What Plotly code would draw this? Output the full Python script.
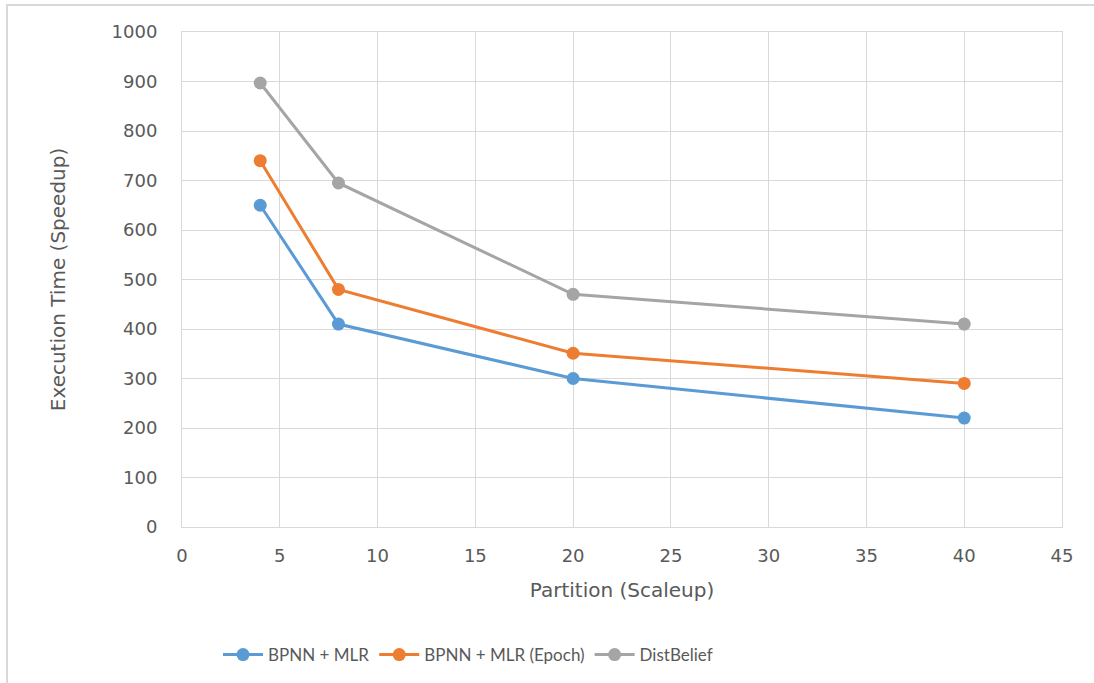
import plotly.graph_objects as go

partitions = [4, 8, 20, 40]
bpnn_mlr = [650, 410, 300, 220]
bpnn_mlr_epoch = [740, 480, 351, 290]
distbelief = [897, 695, 470, 410]

series = [
    ("BPNN + MLR", bpnn_mlr, "#5b9bd5"),
    ("BPNN + MLR (Epoch)", bpnn_mlr_epoch, "#ed7d31"),
    ("DistBelief", distbelief, "#a5a5a5"),
]

fig = go.Figure()
for name, vals, color in series:
    fig.add_trace(go.Scatter(
        x=partitions, y=vals, name=name, mode="lines+markers",
        line=dict(color=color, width=3),
        marker=dict(color=color, size=13),
    ))

W, H = 1094, 683
L, R, T, B = 182, 32, 32, 156
pw, ph = W - L - R, H - T - B

def px_x(p):
    return (p - L) / pw

def px_y(p):
    return (H - B - p) / ph

font_family = "'DejaVu Sans', 'Open Sans', sans-serif"
grid = "#d9d9d9"
txt = "#595959"

fig.update_layout(
    width=W, height=H,
    margin=dict(l=L, r=R, t=T, b=B, autoexpand=False),
    paper_bgcolor="white", plot_bgcolor="white",
    font=dict(family=font_family, color=txt, size=18),
    xaxis=dict(
        range=[0, 45], tickvals=list(range(0, 50, 5)),
        showgrid=True, gridcolor=grid, gridwidth=1,
        zeroline=False, showline=True, linecolor=grid, mirror=True,
        ticks="", ticklabelstandoff=12, tickfont=dict(size=18, color=txt),
        title=dict(text="Partition (Scaleup)", font=dict(size=20, color=txt), standoff=18),
    ),
    yaxis=dict(
        range=[0, 1000], tickvals=list(range(0, 1100, 100)),
        showgrid=True, gridcolor=grid, gridwidth=1,
        zeroline=False, showline=True, linecolor=grid, mirror=True,
        ticks="", ticklabelstandoff=20, tickfont=dict(size=18, color=txt),
        title=dict(text="Execution Time (Speedup)", font=dict(size=20, color=txt), standoff=40),
    ),
    legend=dict(
        orientation="h", x=px_x(468), xanchor="center", y=px_y(655), yanchor="middle",
        font=dict(size=17, color=txt, family="Lato, sans-serif"),
        traceorder="normal", itemwidth=40,
    ),
    showlegend=True,
    shapes=[dict(
        type="rect", xref="paper", yref="paper",
        x0=px_x(7), x1=px_x(1110), y0=px_y(700), y1=px_y(5),
        line=dict(color="#d9d9d9", width=2), fillcolor="rgba(0,0,0,0)", layer="below",
    )],
)

fig.write_html("out.html")
